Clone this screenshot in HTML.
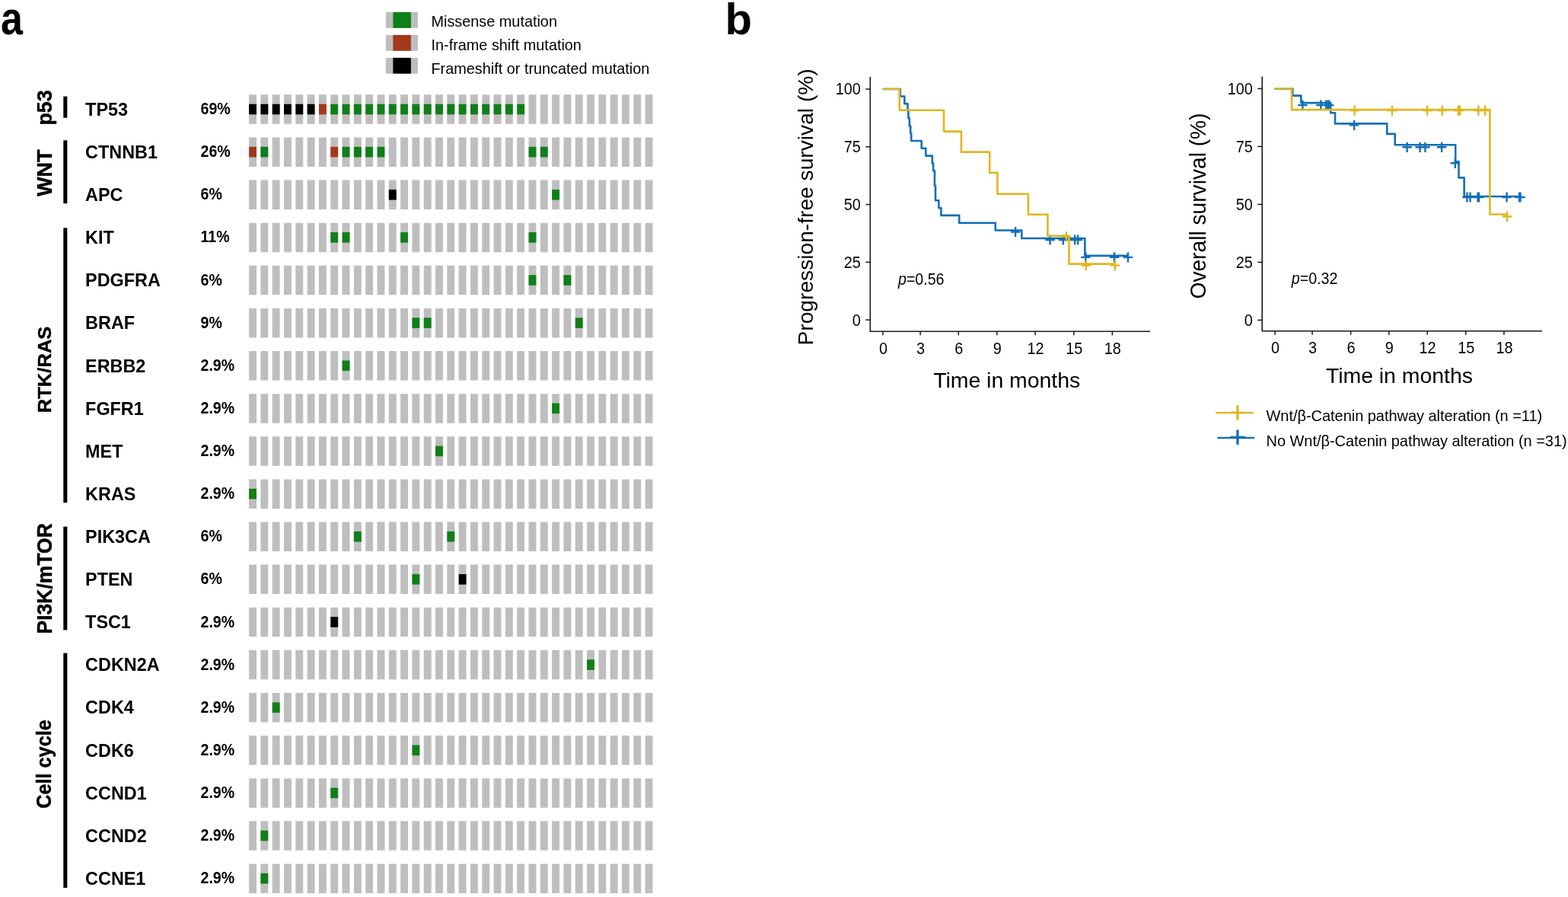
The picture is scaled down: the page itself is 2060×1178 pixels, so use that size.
<!DOCTYPE html>
<html><head><meta charset="utf-8"><title>Figure</title>
<style>
html,body{margin:0;padding:0;background:#fff;width:2060px;height:1178px;overflow:hidden}
svg{display:block}
</style></head><body>
<svg width="2060" height="1178" viewBox="0 0 2060 1178" font-family='"Liberation Sans", Arial, Helvetica, sans-serif' fill="#000">
<rect width="2060" height="1178" fill="#fff"/>
<text transform="translate(0.9 44.8) scale(0.897 1.043)" font-size="58" font-weight="700">a</text>
<text x="952.5" y="44.6" font-size="58" font-weight="700">b</text>
<rect x="506.8" y="16.00" width="42.2" height="20.8" fill="#bebebe"/>
<rect x="516.4" y="16.00" width="23.5" height="20.8" fill="#0f7f17"/>
<text x="566.5" y="35.4" font-size="19.85">Missense mutation</text>
<rect x="506.8" y="45.95" width="42.2" height="20.8" fill="#bebebe"/>
<rect x="516.4" y="45.95" width="23.5" height="20.8" fill="#a3391a"/>
<text x="566.5" y="65.9" font-size="19.85">In-frame shift mutation</text>
<rect x="506.8" y="75.90" width="42.2" height="20.8" fill="#bebebe"/>
<rect x="516.4" y="75.90" width="23.5" height="20.8" fill="#000000"/>
<text x="566.5" y="96.6" font-size="19.85">Frameshift or truncated mutation</text>
<path d="M327.10 124.30h9.9v38.5h-9.9zM342.41 124.30h9.9v38.5h-9.9zM357.72 124.30h9.9v38.5h-9.9zM373.03 124.30h9.9v38.5h-9.9zM388.34 124.30h9.9v38.5h-9.9zM403.65 124.30h9.9v38.5h-9.9zM418.96 124.30h9.9v38.5h-9.9zM434.27 124.30h9.9v38.5h-9.9zM449.58 124.30h9.9v38.5h-9.9zM464.89 124.30h9.9v38.5h-9.9zM480.20 124.30h9.9v38.5h-9.9zM495.51 124.30h9.9v38.5h-9.9zM510.82 124.30h9.9v38.5h-9.9zM526.13 124.30h9.9v38.5h-9.9zM541.44 124.30h9.9v38.5h-9.9zM556.75 124.30h9.9v38.5h-9.9zM572.06 124.30h9.9v38.5h-9.9zM587.37 124.30h9.9v38.5h-9.9zM602.68 124.30h9.9v38.5h-9.9zM617.99 124.30h9.9v38.5h-9.9zM633.30 124.30h9.9v38.5h-9.9zM648.61 124.30h9.9v38.5h-9.9zM663.92 124.30h9.9v38.5h-9.9zM679.23 124.30h9.9v38.5h-9.9zM694.54 124.30h9.9v38.5h-9.9zM709.85 124.30h9.9v38.5h-9.9zM725.16 124.30h9.9v38.5h-9.9zM740.47 124.30h9.9v38.5h-9.9zM755.78 124.30h9.9v38.5h-9.9zM771.09 124.30h9.9v38.5h-9.9zM786.40 124.30h9.9v38.5h-9.9zM801.71 124.30h9.9v38.5h-9.9zM817.02 124.30h9.9v38.5h-9.9zM832.33 124.30h9.9v38.5h-9.9zM847.64 124.30h9.9v38.5h-9.9z" fill="#bebebe"/>
<rect x="327.10" y="136.70" width="9.9" height="13.6" fill="#000000"/>
<rect x="342.41" y="136.70" width="9.9" height="13.6" fill="#000000"/>
<rect x="357.72" y="136.70" width="9.9" height="13.6" fill="#000000"/>
<rect x="373.03" y="136.70" width="9.9" height="13.6" fill="#000000"/>
<rect x="388.34" y="136.70" width="9.9" height="13.6" fill="#000000"/>
<rect x="403.65" y="136.70" width="9.9" height="13.6" fill="#000000"/>
<rect x="418.96" y="136.70" width="9.9" height="13.6" fill="#a3391a"/>
<rect x="434.27" y="136.70" width="9.9" height="13.6" fill="#0f7f17"/>
<rect x="449.58" y="136.70" width="9.9" height="13.6" fill="#0f7f17"/>
<rect x="464.89" y="136.70" width="9.9" height="13.6" fill="#0f7f17"/>
<rect x="480.20" y="136.70" width="9.9" height="13.6" fill="#0f7f17"/>
<rect x="495.51" y="136.70" width="9.9" height="13.6" fill="#0f7f17"/>
<rect x="510.82" y="136.70" width="9.9" height="13.6" fill="#0f7f17"/>
<rect x="526.13" y="136.70" width="9.9" height="13.6" fill="#0f7f17"/>
<rect x="541.44" y="136.70" width="9.9" height="13.6" fill="#0f7f17"/>
<rect x="556.75" y="136.70" width="9.9" height="13.6" fill="#0f7f17"/>
<rect x="572.06" y="136.70" width="9.9" height="13.6" fill="#0f7f17"/>
<rect x="587.37" y="136.70" width="9.9" height="13.6" fill="#0f7f17"/>
<rect x="602.68" y="136.70" width="9.9" height="13.6" fill="#0f7f17"/>
<rect x="617.99" y="136.70" width="9.9" height="13.6" fill="#0f7f17"/>
<rect x="633.30" y="136.70" width="9.9" height="13.6" fill="#0f7f17"/>
<rect x="648.61" y="136.70" width="9.9" height="13.6" fill="#0f7f17"/>
<rect x="663.92" y="136.70" width="9.9" height="13.6" fill="#0f7f17"/>
<rect x="679.23" y="136.70" width="9.9" height="13.6" fill="#0f7f17"/>
<text transform="translate(112.1 151.80) scale(1 1.015)" font-size="23.4" font-weight="700">TP53</text>
<text transform="translate(263.5 150.10) scale(1 1.086)" font-size="19.6" font-weight="700">69%</text>
<path d="M327.10 180.42h9.9v38.5h-9.9zM342.41 180.42h9.9v38.5h-9.9zM357.72 180.42h9.9v38.5h-9.9zM373.03 180.42h9.9v38.5h-9.9zM388.34 180.42h9.9v38.5h-9.9zM403.65 180.42h9.9v38.5h-9.9zM418.96 180.42h9.9v38.5h-9.9zM434.27 180.42h9.9v38.5h-9.9zM449.58 180.42h9.9v38.5h-9.9zM464.89 180.42h9.9v38.5h-9.9zM480.20 180.42h9.9v38.5h-9.9zM495.51 180.42h9.9v38.5h-9.9zM510.82 180.42h9.9v38.5h-9.9zM526.13 180.42h9.9v38.5h-9.9zM541.44 180.42h9.9v38.5h-9.9zM556.75 180.42h9.9v38.5h-9.9zM572.06 180.42h9.9v38.5h-9.9zM587.37 180.42h9.9v38.5h-9.9zM602.68 180.42h9.9v38.5h-9.9zM617.99 180.42h9.9v38.5h-9.9zM633.30 180.42h9.9v38.5h-9.9zM648.61 180.42h9.9v38.5h-9.9zM663.92 180.42h9.9v38.5h-9.9zM679.23 180.42h9.9v38.5h-9.9zM694.54 180.42h9.9v38.5h-9.9zM709.85 180.42h9.9v38.5h-9.9zM725.16 180.42h9.9v38.5h-9.9zM740.47 180.42h9.9v38.5h-9.9zM755.78 180.42h9.9v38.5h-9.9zM771.09 180.42h9.9v38.5h-9.9zM786.40 180.42h9.9v38.5h-9.9zM801.71 180.42h9.9v38.5h-9.9zM817.02 180.42h9.9v38.5h-9.9zM832.33 180.42h9.9v38.5h-9.9zM847.64 180.42h9.9v38.5h-9.9z" fill="#bebebe"/>
<rect x="327.10" y="192.82" width="9.9" height="13.6" fill="#a3391a"/>
<rect x="342.41" y="192.82" width="9.9" height="13.6" fill="#0f7f17"/>
<rect x="434.27" y="192.82" width="9.9" height="13.6" fill="#a3391a"/>
<rect x="449.58" y="192.82" width="9.9" height="13.6" fill="#0f7f17"/>
<rect x="464.89" y="192.82" width="9.9" height="13.6" fill="#0f7f17"/>
<rect x="480.20" y="192.82" width="9.9" height="13.6" fill="#0f7f17"/>
<rect x="495.51" y="192.82" width="9.9" height="13.6" fill="#0f7f17"/>
<rect x="694.54" y="192.82" width="9.9" height="13.6" fill="#0f7f17"/>
<rect x="709.85" y="192.82" width="9.9" height="13.6" fill="#0f7f17"/>
<text transform="translate(112.1 207.92) scale(1 1.015)" font-size="23.4" font-weight="700">CTNNB1</text>
<text transform="translate(263.5 206.22) scale(1 1.086)" font-size="19.6" font-weight="700">26%</text>
<path d="M327.10 236.54h9.9v38.5h-9.9zM342.41 236.54h9.9v38.5h-9.9zM357.72 236.54h9.9v38.5h-9.9zM373.03 236.54h9.9v38.5h-9.9zM388.34 236.54h9.9v38.5h-9.9zM403.65 236.54h9.9v38.5h-9.9zM418.96 236.54h9.9v38.5h-9.9zM434.27 236.54h9.9v38.5h-9.9zM449.58 236.54h9.9v38.5h-9.9zM464.89 236.54h9.9v38.5h-9.9zM480.20 236.54h9.9v38.5h-9.9zM495.51 236.54h9.9v38.5h-9.9zM510.82 236.54h9.9v38.5h-9.9zM526.13 236.54h9.9v38.5h-9.9zM541.44 236.54h9.9v38.5h-9.9zM556.75 236.54h9.9v38.5h-9.9zM572.06 236.54h9.9v38.5h-9.9zM587.37 236.54h9.9v38.5h-9.9zM602.68 236.54h9.9v38.5h-9.9zM617.99 236.54h9.9v38.5h-9.9zM633.30 236.54h9.9v38.5h-9.9zM648.61 236.54h9.9v38.5h-9.9zM663.92 236.54h9.9v38.5h-9.9zM679.23 236.54h9.9v38.5h-9.9zM694.54 236.54h9.9v38.5h-9.9zM709.85 236.54h9.9v38.5h-9.9zM725.16 236.54h9.9v38.5h-9.9zM740.47 236.54h9.9v38.5h-9.9zM755.78 236.54h9.9v38.5h-9.9zM771.09 236.54h9.9v38.5h-9.9zM786.40 236.54h9.9v38.5h-9.9zM801.71 236.54h9.9v38.5h-9.9zM817.02 236.54h9.9v38.5h-9.9zM832.33 236.54h9.9v38.5h-9.9zM847.64 236.54h9.9v38.5h-9.9z" fill="#bebebe"/>
<rect x="510.82" y="248.94" width="9.9" height="13.6" fill="#000000"/>
<rect x="725.16" y="248.94" width="9.9" height="13.6" fill="#0f7f17"/>
<text transform="translate(112.1 264.04) scale(1 1.015)" font-size="23.4" font-weight="700">APC</text>
<text transform="translate(263.5 262.34) scale(1 1.086)" font-size="19.6" font-weight="700">6%</text>
<path d="M327.10 292.66h9.9v38.5h-9.9zM342.41 292.66h9.9v38.5h-9.9zM357.72 292.66h9.9v38.5h-9.9zM373.03 292.66h9.9v38.5h-9.9zM388.34 292.66h9.9v38.5h-9.9zM403.65 292.66h9.9v38.5h-9.9zM418.96 292.66h9.9v38.5h-9.9zM434.27 292.66h9.9v38.5h-9.9zM449.58 292.66h9.9v38.5h-9.9zM464.89 292.66h9.9v38.5h-9.9zM480.20 292.66h9.9v38.5h-9.9zM495.51 292.66h9.9v38.5h-9.9zM510.82 292.66h9.9v38.5h-9.9zM526.13 292.66h9.9v38.5h-9.9zM541.44 292.66h9.9v38.5h-9.9zM556.75 292.66h9.9v38.5h-9.9zM572.06 292.66h9.9v38.5h-9.9zM587.37 292.66h9.9v38.5h-9.9zM602.68 292.66h9.9v38.5h-9.9zM617.99 292.66h9.9v38.5h-9.9zM633.30 292.66h9.9v38.5h-9.9zM648.61 292.66h9.9v38.5h-9.9zM663.92 292.66h9.9v38.5h-9.9zM679.23 292.66h9.9v38.5h-9.9zM694.54 292.66h9.9v38.5h-9.9zM709.85 292.66h9.9v38.5h-9.9zM725.16 292.66h9.9v38.5h-9.9zM740.47 292.66h9.9v38.5h-9.9zM755.78 292.66h9.9v38.5h-9.9zM771.09 292.66h9.9v38.5h-9.9zM786.40 292.66h9.9v38.5h-9.9zM801.71 292.66h9.9v38.5h-9.9zM817.02 292.66h9.9v38.5h-9.9zM832.33 292.66h9.9v38.5h-9.9zM847.64 292.66h9.9v38.5h-9.9z" fill="#bebebe"/>
<rect x="434.27" y="305.06" width="9.9" height="13.6" fill="#0f7f17"/>
<rect x="449.58" y="305.06" width="9.9" height="13.6" fill="#0f7f17"/>
<rect x="526.13" y="305.06" width="9.9" height="13.6" fill="#0f7f17"/>
<rect x="694.54" y="305.06" width="9.9" height="13.6" fill="#0f7f17"/>
<text transform="translate(112.1 320.16) scale(1 1.015)" font-size="23.4" font-weight="700">KIT</text>
<text transform="translate(263.5 318.46) scale(1 1.086)" font-size="19.6" font-weight="700">11%</text>
<path d="M327.10 348.78h9.9v38.5h-9.9zM342.41 348.78h9.9v38.5h-9.9zM357.72 348.78h9.9v38.5h-9.9zM373.03 348.78h9.9v38.5h-9.9zM388.34 348.78h9.9v38.5h-9.9zM403.65 348.78h9.9v38.5h-9.9zM418.96 348.78h9.9v38.5h-9.9zM434.27 348.78h9.9v38.5h-9.9zM449.58 348.78h9.9v38.5h-9.9zM464.89 348.78h9.9v38.5h-9.9zM480.20 348.78h9.9v38.5h-9.9zM495.51 348.78h9.9v38.5h-9.9zM510.82 348.78h9.9v38.5h-9.9zM526.13 348.78h9.9v38.5h-9.9zM541.44 348.78h9.9v38.5h-9.9zM556.75 348.78h9.9v38.5h-9.9zM572.06 348.78h9.9v38.5h-9.9zM587.37 348.78h9.9v38.5h-9.9zM602.68 348.78h9.9v38.5h-9.9zM617.99 348.78h9.9v38.5h-9.9zM633.30 348.78h9.9v38.5h-9.9zM648.61 348.78h9.9v38.5h-9.9zM663.92 348.78h9.9v38.5h-9.9zM679.23 348.78h9.9v38.5h-9.9zM694.54 348.78h9.9v38.5h-9.9zM709.85 348.78h9.9v38.5h-9.9zM725.16 348.78h9.9v38.5h-9.9zM740.47 348.78h9.9v38.5h-9.9zM755.78 348.78h9.9v38.5h-9.9zM771.09 348.78h9.9v38.5h-9.9zM786.40 348.78h9.9v38.5h-9.9zM801.71 348.78h9.9v38.5h-9.9zM817.02 348.78h9.9v38.5h-9.9zM832.33 348.78h9.9v38.5h-9.9zM847.64 348.78h9.9v38.5h-9.9z" fill="#bebebe"/>
<rect x="694.54" y="361.18" width="9.9" height="13.6" fill="#0f7f17"/>
<rect x="740.47" y="361.18" width="9.9" height="13.6" fill="#0f7f17"/>
<text transform="translate(112.1 376.28) scale(1 1.015)" font-size="23.4" font-weight="700">PDGFRA</text>
<text transform="translate(263.5 374.58) scale(1 1.086)" font-size="19.6" font-weight="700">6%</text>
<path d="M327.10 404.90h9.9v38.5h-9.9zM342.41 404.90h9.9v38.5h-9.9zM357.72 404.90h9.9v38.5h-9.9zM373.03 404.90h9.9v38.5h-9.9zM388.34 404.90h9.9v38.5h-9.9zM403.65 404.90h9.9v38.5h-9.9zM418.96 404.90h9.9v38.5h-9.9zM434.27 404.90h9.9v38.5h-9.9zM449.58 404.90h9.9v38.5h-9.9zM464.89 404.90h9.9v38.5h-9.9zM480.20 404.90h9.9v38.5h-9.9zM495.51 404.90h9.9v38.5h-9.9zM510.82 404.90h9.9v38.5h-9.9zM526.13 404.90h9.9v38.5h-9.9zM541.44 404.90h9.9v38.5h-9.9zM556.75 404.90h9.9v38.5h-9.9zM572.06 404.90h9.9v38.5h-9.9zM587.37 404.90h9.9v38.5h-9.9zM602.68 404.90h9.9v38.5h-9.9zM617.99 404.90h9.9v38.5h-9.9zM633.30 404.90h9.9v38.5h-9.9zM648.61 404.90h9.9v38.5h-9.9zM663.92 404.90h9.9v38.5h-9.9zM679.23 404.90h9.9v38.5h-9.9zM694.54 404.90h9.9v38.5h-9.9zM709.85 404.90h9.9v38.5h-9.9zM725.16 404.90h9.9v38.5h-9.9zM740.47 404.90h9.9v38.5h-9.9zM755.78 404.90h9.9v38.5h-9.9zM771.09 404.90h9.9v38.5h-9.9zM786.40 404.90h9.9v38.5h-9.9zM801.71 404.90h9.9v38.5h-9.9zM817.02 404.90h9.9v38.5h-9.9zM832.33 404.90h9.9v38.5h-9.9zM847.64 404.90h9.9v38.5h-9.9z" fill="#bebebe"/>
<rect x="541.44" y="417.30" width="9.9" height="13.6" fill="#0f7f17"/>
<rect x="556.75" y="417.30" width="9.9" height="13.6" fill="#0f7f17"/>
<rect x="755.78" y="417.30" width="9.9" height="13.6" fill="#0f7f17"/>
<text transform="translate(112.1 432.40) scale(1 1.015)" font-size="23.4" font-weight="700">BRAF</text>
<text transform="translate(263.5 430.70) scale(1 1.086)" font-size="19.6" font-weight="700">9%</text>
<path d="M327.10 461.02h9.9v38.5h-9.9zM342.41 461.02h9.9v38.5h-9.9zM357.72 461.02h9.9v38.5h-9.9zM373.03 461.02h9.9v38.5h-9.9zM388.34 461.02h9.9v38.5h-9.9zM403.65 461.02h9.9v38.5h-9.9zM418.96 461.02h9.9v38.5h-9.9zM434.27 461.02h9.9v38.5h-9.9zM449.58 461.02h9.9v38.5h-9.9zM464.89 461.02h9.9v38.5h-9.9zM480.20 461.02h9.9v38.5h-9.9zM495.51 461.02h9.9v38.5h-9.9zM510.82 461.02h9.9v38.5h-9.9zM526.13 461.02h9.9v38.5h-9.9zM541.44 461.02h9.9v38.5h-9.9zM556.75 461.02h9.9v38.5h-9.9zM572.06 461.02h9.9v38.5h-9.9zM587.37 461.02h9.9v38.5h-9.9zM602.68 461.02h9.9v38.5h-9.9zM617.99 461.02h9.9v38.5h-9.9zM633.30 461.02h9.9v38.5h-9.9zM648.61 461.02h9.9v38.5h-9.9zM663.92 461.02h9.9v38.5h-9.9zM679.23 461.02h9.9v38.5h-9.9zM694.54 461.02h9.9v38.5h-9.9zM709.85 461.02h9.9v38.5h-9.9zM725.16 461.02h9.9v38.5h-9.9zM740.47 461.02h9.9v38.5h-9.9zM755.78 461.02h9.9v38.5h-9.9zM771.09 461.02h9.9v38.5h-9.9zM786.40 461.02h9.9v38.5h-9.9zM801.71 461.02h9.9v38.5h-9.9zM817.02 461.02h9.9v38.5h-9.9zM832.33 461.02h9.9v38.5h-9.9zM847.64 461.02h9.9v38.5h-9.9z" fill="#bebebe"/>
<rect x="449.58" y="473.42" width="9.9" height="13.6" fill="#0f7f17"/>
<text transform="translate(112.1 488.52) scale(1 1.015)" font-size="23.4" font-weight="700">ERBB2</text>
<text transform="translate(263.5 486.82) scale(1 1.086)" font-size="19.6" font-weight="700">2.9%</text>
<path d="M327.10 517.14h9.9v38.5h-9.9zM342.41 517.14h9.9v38.5h-9.9zM357.72 517.14h9.9v38.5h-9.9zM373.03 517.14h9.9v38.5h-9.9zM388.34 517.14h9.9v38.5h-9.9zM403.65 517.14h9.9v38.5h-9.9zM418.96 517.14h9.9v38.5h-9.9zM434.27 517.14h9.9v38.5h-9.9zM449.58 517.14h9.9v38.5h-9.9zM464.89 517.14h9.9v38.5h-9.9zM480.20 517.14h9.9v38.5h-9.9zM495.51 517.14h9.9v38.5h-9.9zM510.82 517.14h9.9v38.5h-9.9zM526.13 517.14h9.9v38.5h-9.9zM541.44 517.14h9.9v38.5h-9.9zM556.75 517.14h9.9v38.5h-9.9zM572.06 517.14h9.9v38.5h-9.9zM587.37 517.14h9.9v38.5h-9.9zM602.68 517.14h9.9v38.5h-9.9zM617.99 517.14h9.9v38.5h-9.9zM633.30 517.14h9.9v38.5h-9.9zM648.61 517.14h9.9v38.5h-9.9zM663.92 517.14h9.9v38.5h-9.9zM679.23 517.14h9.9v38.5h-9.9zM694.54 517.14h9.9v38.5h-9.9zM709.85 517.14h9.9v38.5h-9.9zM725.16 517.14h9.9v38.5h-9.9zM740.47 517.14h9.9v38.5h-9.9zM755.78 517.14h9.9v38.5h-9.9zM771.09 517.14h9.9v38.5h-9.9zM786.40 517.14h9.9v38.5h-9.9zM801.71 517.14h9.9v38.5h-9.9zM817.02 517.14h9.9v38.5h-9.9zM832.33 517.14h9.9v38.5h-9.9zM847.64 517.14h9.9v38.5h-9.9z" fill="#bebebe"/>
<rect x="725.16" y="529.54" width="9.9" height="13.6" fill="#0f7f17"/>
<text transform="translate(112.1 544.64) scale(1 1.015)" font-size="23.4" font-weight="700">FGFR1</text>
<text transform="translate(263.5 542.94) scale(1 1.086)" font-size="19.6" font-weight="700">2.9%</text>
<path d="M327.10 573.26h9.9v38.5h-9.9zM342.41 573.26h9.9v38.5h-9.9zM357.72 573.26h9.9v38.5h-9.9zM373.03 573.26h9.9v38.5h-9.9zM388.34 573.26h9.9v38.5h-9.9zM403.65 573.26h9.9v38.5h-9.9zM418.96 573.26h9.9v38.5h-9.9zM434.27 573.26h9.9v38.5h-9.9zM449.58 573.26h9.9v38.5h-9.9zM464.89 573.26h9.9v38.5h-9.9zM480.20 573.26h9.9v38.5h-9.9zM495.51 573.26h9.9v38.5h-9.9zM510.82 573.26h9.9v38.5h-9.9zM526.13 573.26h9.9v38.5h-9.9zM541.44 573.26h9.9v38.5h-9.9zM556.75 573.26h9.9v38.5h-9.9zM572.06 573.26h9.9v38.5h-9.9zM587.37 573.26h9.9v38.5h-9.9zM602.68 573.26h9.9v38.5h-9.9zM617.99 573.26h9.9v38.5h-9.9zM633.30 573.26h9.9v38.5h-9.9zM648.61 573.26h9.9v38.5h-9.9zM663.92 573.26h9.9v38.5h-9.9zM679.23 573.26h9.9v38.5h-9.9zM694.54 573.26h9.9v38.5h-9.9zM709.85 573.26h9.9v38.5h-9.9zM725.16 573.26h9.9v38.5h-9.9zM740.47 573.26h9.9v38.5h-9.9zM755.78 573.26h9.9v38.5h-9.9zM771.09 573.26h9.9v38.5h-9.9zM786.40 573.26h9.9v38.5h-9.9zM801.71 573.26h9.9v38.5h-9.9zM817.02 573.26h9.9v38.5h-9.9zM832.33 573.26h9.9v38.5h-9.9zM847.64 573.26h9.9v38.5h-9.9z" fill="#bebebe"/>
<rect x="572.06" y="585.66" width="9.9" height="13.6" fill="#0f7f17"/>
<text transform="translate(112.1 600.76) scale(1 1.015)" font-size="23.4" font-weight="700">MET</text>
<text transform="translate(263.5 599.06) scale(1 1.086)" font-size="19.6" font-weight="700">2.9%</text>
<path d="M327.10 629.38h9.9v38.5h-9.9zM342.41 629.38h9.9v38.5h-9.9zM357.72 629.38h9.9v38.5h-9.9zM373.03 629.38h9.9v38.5h-9.9zM388.34 629.38h9.9v38.5h-9.9zM403.65 629.38h9.9v38.5h-9.9zM418.96 629.38h9.9v38.5h-9.9zM434.27 629.38h9.9v38.5h-9.9zM449.58 629.38h9.9v38.5h-9.9zM464.89 629.38h9.9v38.5h-9.9zM480.20 629.38h9.9v38.5h-9.9zM495.51 629.38h9.9v38.5h-9.9zM510.82 629.38h9.9v38.5h-9.9zM526.13 629.38h9.9v38.5h-9.9zM541.44 629.38h9.9v38.5h-9.9zM556.75 629.38h9.9v38.5h-9.9zM572.06 629.38h9.9v38.5h-9.9zM587.37 629.38h9.9v38.5h-9.9zM602.68 629.38h9.9v38.5h-9.9zM617.99 629.38h9.9v38.5h-9.9zM633.30 629.38h9.9v38.5h-9.9zM648.61 629.38h9.9v38.5h-9.9zM663.92 629.38h9.9v38.5h-9.9zM679.23 629.38h9.9v38.5h-9.9zM694.54 629.38h9.9v38.5h-9.9zM709.85 629.38h9.9v38.5h-9.9zM725.16 629.38h9.9v38.5h-9.9zM740.47 629.38h9.9v38.5h-9.9zM755.78 629.38h9.9v38.5h-9.9zM771.09 629.38h9.9v38.5h-9.9zM786.40 629.38h9.9v38.5h-9.9zM801.71 629.38h9.9v38.5h-9.9zM817.02 629.38h9.9v38.5h-9.9zM832.33 629.38h9.9v38.5h-9.9zM847.64 629.38h9.9v38.5h-9.9z" fill="#bebebe"/>
<rect x="327.10" y="641.78" width="9.9" height="13.6" fill="#0f7f17"/>
<text transform="translate(112.1 656.88) scale(1 1.015)" font-size="23.4" font-weight="700">KRAS</text>
<text transform="translate(263.5 655.18) scale(1 1.086)" font-size="19.6" font-weight="700">2.9%</text>
<path d="M327.10 685.50h9.9v38.5h-9.9zM342.41 685.50h9.9v38.5h-9.9zM357.72 685.50h9.9v38.5h-9.9zM373.03 685.50h9.9v38.5h-9.9zM388.34 685.50h9.9v38.5h-9.9zM403.65 685.50h9.9v38.5h-9.9zM418.96 685.50h9.9v38.5h-9.9zM434.27 685.50h9.9v38.5h-9.9zM449.58 685.50h9.9v38.5h-9.9zM464.89 685.50h9.9v38.5h-9.9zM480.20 685.50h9.9v38.5h-9.9zM495.51 685.50h9.9v38.5h-9.9zM510.82 685.50h9.9v38.5h-9.9zM526.13 685.50h9.9v38.5h-9.9zM541.44 685.50h9.9v38.5h-9.9zM556.75 685.50h9.9v38.5h-9.9zM572.06 685.50h9.9v38.5h-9.9zM587.37 685.50h9.9v38.5h-9.9zM602.68 685.50h9.9v38.5h-9.9zM617.99 685.50h9.9v38.5h-9.9zM633.30 685.50h9.9v38.5h-9.9zM648.61 685.50h9.9v38.5h-9.9zM663.92 685.50h9.9v38.5h-9.9zM679.23 685.50h9.9v38.5h-9.9zM694.54 685.50h9.9v38.5h-9.9zM709.85 685.50h9.9v38.5h-9.9zM725.16 685.50h9.9v38.5h-9.9zM740.47 685.50h9.9v38.5h-9.9zM755.78 685.50h9.9v38.5h-9.9zM771.09 685.50h9.9v38.5h-9.9zM786.40 685.50h9.9v38.5h-9.9zM801.71 685.50h9.9v38.5h-9.9zM817.02 685.50h9.9v38.5h-9.9zM832.33 685.50h9.9v38.5h-9.9zM847.64 685.50h9.9v38.5h-9.9z" fill="#bebebe"/>
<rect x="464.89" y="697.90" width="9.9" height="13.6" fill="#0f7f17"/>
<rect x="587.37" y="697.90" width="9.9" height="13.6" fill="#0f7f17"/>
<text transform="translate(112.1 713.00) scale(1 1.015)" font-size="23.4" font-weight="700">PIK3CA</text>
<text transform="translate(263.5 711.30) scale(1 1.086)" font-size="19.6" font-weight="700">6%</text>
<path d="M327.10 741.62h9.9v38.5h-9.9zM342.41 741.62h9.9v38.5h-9.9zM357.72 741.62h9.9v38.5h-9.9zM373.03 741.62h9.9v38.5h-9.9zM388.34 741.62h9.9v38.5h-9.9zM403.65 741.62h9.9v38.5h-9.9zM418.96 741.62h9.9v38.5h-9.9zM434.27 741.62h9.9v38.5h-9.9zM449.58 741.62h9.9v38.5h-9.9zM464.89 741.62h9.9v38.5h-9.9zM480.20 741.62h9.9v38.5h-9.9zM495.51 741.62h9.9v38.5h-9.9zM510.82 741.62h9.9v38.5h-9.9zM526.13 741.62h9.9v38.5h-9.9zM541.44 741.62h9.9v38.5h-9.9zM556.75 741.62h9.9v38.5h-9.9zM572.06 741.62h9.9v38.5h-9.9zM587.37 741.62h9.9v38.5h-9.9zM602.68 741.62h9.9v38.5h-9.9zM617.99 741.62h9.9v38.5h-9.9zM633.30 741.62h9.9v38.5h-9.9zM648.61 741.62h9.9v38.5h-9.9zM663.92 741.62h9.9v38.5h-9.9zM679.23 741.62h9.9v38.5h-9.9zM694.54 741.62h9.9v38.5h-9.9zM709.85 741.62h9.9v38.5h-9.9zM725.16 741.62h9.9v38.5h-9.9zM740.47 741.62h9.9v38.5h-9.9zM755.78 741.62h9.9v38.5h-9.9zM771.09 741.62h9.9v38.5h-9.9zM786.40 741.62h9.9v38.5h-9.9zM801.71 741.62h9.9v38.5h-9.9zM817.02 741.62h9.9v38.5h-9.9zM832.33 741.62h9.9v38.5h-9.9zM847.64 741.62h9.9v38.5h-9.9z" fill="#bebebe"/>
<rect x="541.44" y="754.02" width="9.9" height="13.6" fill="#0f7f17"/>
<rect x="602.68" y="754.02" width="9.9" height="13.6" fill="#000000"/>
<text transform="translate(112.1 769.12) scale(1 1.015)" font-size="23.4" font-weight="700">PTEN</text>
<text transform="translate(263.5 767.42) scale(1 1.086)" font-size="19.6" font-weight="700">6%</text>
<path d="M327.10 797.74h9.9v38.5h-9.9zM342.41 797.74h9.9v38.5h-9.9zM357.72 797.74h9.9v38.5h-9.9zM373.03 797.74h9.9v38.5h-9.9zM388.34 797.74h9.9v38.5h-9.9zM403.65 797.74h9.9v38.5h-9.9zM418.96 797.74h9.9v38.5h-9.9zM434.27 797.74h9.9v38.5h-9.9zM449.58 797.74h9.9v38.5h-9.9zM464.89 797.74h9.9v38.5h-9.9zM480.20 797.74h9.9v38.5h-9.9zM495.51 797.74h9.9v38.5h-9.9zM510.82 797.74h9.9v38.5h-9.9zM526.13 797.74h9.9v38.5h-9.9zM541.44 797.74h9.9v38.5h-9.9zM556.75 797.74h9.9v38.5h-9.9zM572.06 797.74h9.9v38.5h-9.9zM587.37 797.74h9.9v38.5h-9.9zM602.68 797.74h9.9v38.5h-9.9zM617.99 797.74h9.9v38.5h-9.9zM633.30 797.74h9.9v38.5h-9.9zM648.61 797.74h9.9v38.5h-9.9zM663.92 797.74h9.9v38.5h-9.9zM679.23 797.74h9.9v38.5h-9.9zM694.54 797.74h9.9v38.5h-9.9zM709.85 797.74h9.9v38.5h-9.9zM725.16 797.74h9.9v38.5h-9.9zM740.47 797.74h9.9v38.5h-9.9zM755.78 797.74h9.9v38.5h-9.9zM771.09 797.74h9.9v38.5h-9.9zM786.40 797.74h9.9v38.5h-9.9zM801.71 797.74h9.9v38.5h-9.9zM817.02 797.74h9.9v38.5h-9.9zM832.33 797.74h9.9v38.5h-9.9zM847.64 797.74h9.9v38.5h-9.9z" fill="#bebebe"/>
<rect x="434.27" y="810.14" width="9.9" height="13.6" fill="#000000"/>
<text transform="translate(112.1 825.24) scale(1 1.015)" font-size="23.4" font-weight="700">TSC1</text>
<text transform="translate(263.5 823.54) scale(1 1.086)" font-size="19.6" font-weight="700">2.9%</text>
<path d="M327.10 853.86h9.9v38.5h-9.9zM342.41 853.86h9.9v38.5h-9.9zM357.72 853.86h9.9v38.5h-9.9zM373.03 853.86h9.9v38.5h-9.9zM388.34 853.86h9.9v38.5h-9.9zM403.65 853.86h9.9v38.5h-9.9zM418.96 853.86h9.9v38.5h-9.9zM434.27 853.86h9.9v38.5h-9.9zM449.58 853.86h9.9v38.5h-9.9zM464.89 853.86h9.9v38.5h-9.9zM480.20 853.86h9.9v38.5h-9.9zM495.51 853.86h9.9v38.5h-9.9zM510.82 853.86h9.9v38.5h-9.9zM526.13 853.86h9.9v38.5h-9.9zM541.44 853.86h9.9v38.5h-9.9zM556.75 853.86h9.9v38.5h-9.9zM572.06 853.86h9.9v38.5h-9.9zM587.37 853.86h9.9v38.5h-9.9zM602.68 853.86h9.9v38.5h-9.9zM617.99 853.86h9.9v38.5h-9.9zM633.30 853.86h9.9v38.5h-9.9zM648.61 853.86h9.9v38.5h-9.9zM663.92 853.86h9.9v38.5h-9.9zM679.23 853.86h9.9v38.5h-9.9zM694.54 853.86h9.9v38.5h-9.9zM709.85 853.86h9.9v38.5h-9.9zM725.16 853.86h9.9v38.5h-9.9zM740.47 853.86h9.9v38.5h-9.9zM755.78 853.86h9.9v38.5h-9.9zM771.09 853.86h9.9v38.5h-9.9zM786.40 853.86h9.9v38.5h-9.9zM801.71 853.86h9.9v38.5h-9.9zM817.02 853.86h9.9v38.5h-9.9zM832.33 853.86h9.9v38.5h-9.9zM847.64 853.86h9.9v38.5h-9.9z" fill="#bebebe"/>
<rect x="771.09" y="866.26" width="9.9" height="13.6" fill="#0f7f17"/>
<text transform="translate(112.1 881.36) scale(1 1.015)" font-size="23.4" font-weight="700">CDKN2A</text>
<text transform="translate(263.5 879.66) scale(1 1.086)" font-size="19.6" font-weight="700">2.9%</text>
<path d="M327.10 909.98h9.9v38.5h-9.9zM342.41 909.98h9.9v38.5h-9.9zM357.72 909.98h9.9v38.5h-9.9zM373.03 909.98h9.9v38.5h-9.9zM388.34 909.98h9.9v38.5h-9.9zM403.65 909.98h9.9v38.5h-9.9zM418.96 909.98h9.9v38.5h-9.9zM434.27 909.98h9.9v38.5h-9.9zM449.58 909.98h9.9v38.5h-9.9zM464.89 909.98h9.9v38.5h-9.9zM480.20 909.98h9.9v38.5h-9.9zM495.51 909.98h9.9v38.5h-9.9zM510.82 909.98h9.9v38.5h-9.9zM526.13 909.98h9.9v38.5h-9.9zM541.44 909.98h9.9v38.5h-9.9zM556.75 909.98h9.9v38.5h-9.9zM572.06 909.98h9.9v38.5h-9.9zM587.37 909.98h9.9v38.5h-9.9zM602.68 909.98h9.9v38.5h-9.9zM617.99 909.98h9.9v38.5h-9.9zM633.30 909.98h9.9v38.5h-9.9zM648.61 909.98h9.9v38.5h-9.9zM663.92 909.98h9.9v38.5h-9.9zM679.23 909.98h9.9v38.5h-9.9zM694.54 909.98h9.9v38.5h-9.9zM709.85 909.98h9.9v38.5h-9.9zM725.16 909.98h9.9v38.5h-9.9zM740.47 909.98h9.9v38.5h-9.9zM755.78 909.98h9.9v38.5h-9.9zM771.09 909.98h9.9v38.5h-9.9zM786.40 909.98h9.9v38.5h-9.9zM801.71 909.98h9.9v38.5h-9.9zM817.02 909.98h9.9v38.5h-9.9zM832.33 909.98h9.9v38.5h-9.9zM847.64 909.98h9.9v38.5h-9.9z" fill="#bebebe"/>
<rect x="357.72" y="922.38" width="9.9" height="13.6" fill="#0f7f17"/>
<text transform="translate(112.1 937.48) scale(1 1.015)" font-size="23.4" font-weight="700">CDK4</text>
<text transform="translate(263.5 935.78) scale(1 1.086)" font-size="19.6" font-weight="700">2.9%</text>
<path d="M327.10 966.10h9.9v38.5h-9.9zM342.41 966.10h9.9v38.5h-9.9zM357.72 966.10h9.9v38.5h-9.9zM373.03 966.10h9.9v38.5h-9.9zM388.34 966.10h9.9v38.5h-9.9zM403.65 966.10h9.9v38.5h-9.9zM418.96 966.10h9.9v38.5h-9.9zM434.27 966.10h9.9v38.5h-9.9zM449.58 966.10h9.9v38.5h-9.9zM464.89 966.10h9.9v38.5h-9.9zM480.20 966.10h9.9v38.5h-9.9zM495.51 966.10h9.9v38.5h-9.9zM510.82 966.10h9.9v38.5h-9.9zM526.13 966.10h9.9v38.5h-9.9zM541.44 966.10h9.9v38.5h-9.9zM556.75 966.10h9.9v38.5h-9.9zM572.06 966.10h9.9v38.5h-9.9zM587.37 966.10h9.9v38.5h-9.9zM602.68 966.10h9.9v38.5h-9.9zM617.99 966.10h9.9v38.5h-9.9zM633.30 966.10h9.9v38.5h-9.9zM648.61 966.10h9.9v38.5h-9.9zM663.92 966.10h9.9v38.5h-9.9zM679.23 966.10h9.9v38.5h-9.9zM694.54 966.10h9.9v38.5h-9.9zM709.85 966.10h9.9v38.5h-9.9zM725.16 966.10h9.9v38.5h-9.9zM740.47 966.10h9.9v38.5h-9.9zM755.78 966.10h9.9v38.5h-9.9zM771.09 966.10h9.9v38.5h-9.9zM786.40 966.10h9.9v38.5h-9.9zM801.71 966.10h9.9v38.5h-9.9zM817.02 966.10h9.9v38.5h-9.9zM832.33 966.10h9.9v38.5h-9.9zM847.64 966.10h9.9v38.5h-9.9z" fill="#bebebe"/>
<rect x="541.44" y="978.50" width="9.9" height="13.6" fill="#0f7f17"/>
<text transform="translate(112.1 993.60) scale(1 1.015)" font-size="23.4" font-weight="700">CDK6</text>
<text transform="translate(263.5 991.90) scale(1 1.086)" font-size="19.6" font-weight="700">2.9%</text>
<path d="M327.10 1022.22h9.9v38.5h-9.9zM342.41 1022.22h9.9v38.5h-9.9zM357.72 1022.22h9.9v38.5h-9.9zM373.03 1022.22h9.9v38.5h-9.9zM388.34 1022.22h9.9v38.5h-9.9zM403.65 1022.22h9.9v38.5h-9.9zM418.96 1022.22h9.9v38.5h-9.9zM434.27 1022.22h9.9v38.5h-9.9zM449.58 1022.22h9.9v38.5h-9.9zM464.89 1022.22h9.9v38.5h-9.9zM480.20 1022.22h9.9v38.5h-9.9zM495.51 1022.22h9.9v38.5h-9.9zM510.82 1022.22h9.9v38.5h-9.9zM526.13 1022.22h9.9v38.5h-9.9zM541.44 1022.22h9.9v38.5h-9.9zM556.75 1022.22h9.9v38.5h-9.9zM572.06 1022.22h9.9v38.5h-9.9zM587.37 1022.22h9.9v38.5h-9.9zM602.68 1022.22h9.9v38.5h-9.9zM617.99 1022.22h9.9v38.5h-9.9zM633.30 1022.22h9.9v38.5h-9.9zM648.61 1022.22h9.9v38.5h-9.9zM663.92 1022.22h9.9v38.5h-9.9zM679.23 1022.22h9.9v38.5h-9.9zM694.54 1022.22h9.9v38.5h-9.9zM709.85 1022.22h9.9v38.5h-9.9zM725.16 1022.22h9.9v38.5h-9.9zM740.47 1022.22h9.9v38.5h-9.9zM755.78 1022.22h9.9v38.5h-9.9zM771.09 1022.22h9.9v38.5h-9.9zM786.40 1022.22h9.9v38.5h-9.9zM801.71 1022.22h9.9v38.5h-9.9zM817.02 1022.22h9.9v38.5h-9.9zM832.33 1022.22h9.9v38.5h-9.9zM847.64 1022.22h9.9v38.5h-9.9z" fill="#bebebe"/>
<rect x="434.27" y="1034.62" width="9.9" height="13.6" fill="#0f7f17"/>
<text transform="translate(112.1 1049.72) scale(1 1.015)" font-size="23.4" font-weight="700">CCND1</text>
<text transform="translate(263.5 1048.02) scale(1 1.086)" font-size="19.6" font-weight="700">2.9%</text>
<path d="M327.10 1078.34h9.9v38.5h-9.9zM342.41 1078.34h9.9v38.5h-9.9zM357.72 1078.34h9.9v38.5h-9.9zM373.03 1078.34h9.9v38.5h-9.9zM388.34 1078.34h9.9v38.5h-9.9zM403.65 1078.34h9.9v38.5h-9.9zM418.96 1078.34h9.9v38.5h-9.9zM434.27 1078.34h9.9v38.5h-9.9zM449.58 1078.34h9.9v38.5h-9.9zM464.89 1078.34h9.9v38.5h-9.9zM480.20 1078.34h9.9v38.5h-9.9zM495.51 1078.34h9.9v38.5h-9.9zM510.82 1078.34h9.9v38.5h-9.9zM526.13 1078.34h9.9v38.5h-9.9zM541.44 1078.34h9.9v38.5h-9.9zM556.75 1078.34h9.9v38.5h-9.9zM572.06 1078.34h9.9v38.5h-9.9zM587.37 1078.34h9.9v38.5h-9.9zM602.68 1078.34h9.9v38.5h-9.9zM617.99 1078.34h9.9v38.5h-9.9zM633.30 1078.34h9.9v38.5h-9.9zM648.61 1078.34h9.9v38.5h-9.9zM663.92 1078.34h9.9v38.5h-9.9zM679.23 1078.34h9.9v38.5h-9.9zM694.54 1078.34h9.9v38.5h-9.9zM709.85 1078.34h9.9v38.5h-9.9zM725.16 1078.34h9.9v38.5h-9.9zM740.47 1078.34h9.9v38.5h-9.9zM755.78 1078.34h9.9v38.5h-9.9zM771.09 1078.34h9.9v38.5h-9.9zM786.40 1078.34h9.9v38.5h-9.9zM801.71 1078.34h9.9v38.5h-9.9zM817.02 1078.34h9.9v38.5h-9.9zM832.33 1078.34h9.9v38.5h-9.9zM847.64 1078.34h9.9v38.5h-9.9z" fill="#bebebe"/>
<rect x="342.41" y="1090.74" width="9.9" height="13.6" fill="#0f7f17"/>
<text transform="translate(112.1 1105.84) scale(1 1.015)" font-size="23.4" font-weight="700">CCND2</text>
<text transform="translate(263.5 1104.14) scale(1 1.086)" font-size="19.6" font-weight="700">2.9%</text>
<path d="M327.10 1134.46h9.9v38.5h-9.9zM342.41 1134.46h9.9v38.5h-9.9zM357.72 1134.46h9.9v38.5h-9.9zM373.03 1134.46h9.9v38.5h-9.9zM388.34 1134.46h9.9v38.5h-9.9zM403.65 1134.46h9.9v38.5h-9.9zM418.96 1134.46h9.9v38.5h-9.9zM434.27 1134.46h9.9v38.5h-9.9zM449.58 1134.46h9.9v38.5h-9.9zM464.89 1134.46h9.9v38.5h-9.9zM480.20 1134.46h9.9v38.5h-9.9zM495.51 1134.46h9.9v38.5h-9.9zM510.82 1134.46h9.9v38.5h-9.9zM526.13 1134.46h9.9v38.5h-9.9zM541.44 1134.46h9.9v38.5h-9.9zM556.75 1134.46h9.9v38.5h-9.9zM572.06 1134.46h9.9v38.5h-9.9zM587.37 1134.46h9.9v38.5h-9.9zM602.68 1134.46h9.9v38.5h-9.9zM617.99 1134.46h9.9v38.5h-9.9zM633.30 1134.46h9.9v38.5h-9.9zM648.61 1134.46h9.9v38.5h-9.9zM663.92 1134.46h9.9v38.5h-9.9zM679.23 1134.46h9.9v38.5h-9.9zM694.54 1134.46h9.9v38.5h-9.9zM709.85 1134.46h9.9v38.5h-9.9zM725.16 1134.46h9.9v38.5h-9.9zM740.47 1134.46h9.9v38.5h-9.9zM755.78 1134.46h9.9v38.5h-9.9zM771.09 1134.46h9.9v38.5h-9.9zM786.40 1134.46h9.9v38.5h-9.9zM801.71 1134.46h9.9v38.5h-9.9zM817.02 1134.46h9.9v38.5h-9.9zM832.33 1134.46h9.9v38.5h-9.9zM847.64 1134.46h9.9v38.5h-9.9z" fill="#bebebe"/>
<rect x="342.41" y="1146.86" width="9.9" height="13.6" fill="#0f7f17"/>
<text transform="translate(112.1 1161.96) scale(1 1.015)" font-size="23.4" font-weight="700">CCNE1</text>
<text transform="translate(263.5 1160.26) scale(1 1.086)" font-size="19.6" font-weight="700">2.9%</text>
<rect x="83.3" y="126.6" width="5" height="28.1" fill="#000"/>
<text transform="translate(68.0 141.4) rotate(-90)" text-anchor="middle" font-size="26.8" font-weight="700" stroke="#000" stroke-width="0.45" stroke-linejoin="round">p53</text>
<rect x="83.3" y="184.3" width="5" height="82.9" fill="#000"/>
<text transform="translate(68.0 227.2) rotate(-90)" text-anchor="middle" font-size="26.8" font-weight="700" stroke="#000" stroke-width="0.45" stroke-linejoin="round" textLength="61.3" lengthAdjust="spacingAndGlyphs">WNT</text>
<rect x="83.3" y="299.3" width="5" height="360.9" fill="#000"/>
<text transform="translate(67.2 485.4) rotate(-90)" text-anchor="middle" font-size="24.7" font-weight="700" stroke="#000" stroke-width="0.45" stroke-linejoin="round" textLength="113.6" lengthAdjust="spacingAndGlyphs">RTK/RAS</text>
<rect x="83.3" y="691.6" width="5" height="135.8" fill="#000"/>
<text transform="translate(67.7 759.8) rotate(-90)" text-anchor="middle" font-size="27.2" font-weight="700" stroke="#000" stroke-width="0.45" stroke-linejoin="round" textLength="145.3" lengthAdjust="spacingAndGlyphs">PI3K/mTOR</text>
<rect x="83.3" y="857.6" width="5" height="308.3" fill="#000"/>
<text transform="translate(67.4 1003.5) rotate(-90)" text-anchor="middle" font-size="27.2" font-weight="700" stroke="#000" stroke-width="0.45" stroke-linejoin="round" textLength="116.5" lengthAdjust="spacingAndGlyphs">Cell cycle</text>
<path d="M1143.3 101.0V435.3H1511" fill="none" stroke="#1a1a1a" stroke-width="1.6"/>
<path d="M1137.3 420.10H1143.3" stroke="#1a1a1a" stroke-width="1.5"/>
<text transform="translate(1130.8 427.50) scale(1 1.13)" font-size="19.8" text-anchor="end">0</text>
<path d="M1137.3 344.33H1143.3" stroke="#1a1a1a" stroke-width="1.5"/>
<text transform="translate(1130.8 351.73) scale(1 1.13)" font-size="19.8" text-anchor="end">25</text>
<path d="M1137.3 268.55H1143.3" stroke="#1a1a1a" stroke-width="1.5"/>
<text transform="translate(1130.8 275.95) scale(1 1.13)" font-size="19.8" text-anchor="end">50</text>
<path d="M1137.3 192.78H1143.3" stroke="#1a1a1a" stroke-width="1.5"/>
<text transform="translate(1130.8 200.18) scale(1 1.13)" font-size="19.8" text-anchor="end">75</text>
<path d="M1137.3 117.00H1143.3" stroke="#1a1a1a" stroke-width="1.5"/>
<text transform="translate(1130.8 124.40) scale(1 1.13)" font-size="19.8" text-anchor="end">100</text>
<path d="M1159.90 435.3v5" stroke="#1a1a1a" stroke-width="1.5"/>
<text transform="translate(1160.40 465.00) scale(1 1.13)" font-size="19.8" text-anchor="middle">0</text>
<path d="M1209.10 435.3v5" stroke="#1a1a1a" stroke-width="1.5"/>
<text transform="translate(1209.60 465.00) scale(1 1.13)" font-size="19.8" text-anchor="middle">3</text>
<path d="M1259.30 435.3v5" stroke="#1a1a1a" stroke-width="1.5"/>
<text transform="translate(1259.80 465.00) scale(1 1.13)" font-size="19.8" text-anchor="middle">6</text>
<path d="M1309.80 435.3v5" stroke="#1a1a1a" stroke-width="1.5"/>
<text transform="translate(1310.30 465.00) scale(1 1.13)" font-size="19.8" text-anchor="middle">9</text>
<path d="M1360.10 435.3v5" stroke="#1a1a1a" stroke-width="1.5"/>
<text transform="translate(1360.60 465.00) scale(1 1.13)" font-size="19.8" text-anchor="middle">12</text>
<path d="M1410.80 435.3v5" stroke="#1a1a1a" stroke-width="1.5"/>
<text transform="translate(1411.30 465.00) scale(1 1.13)" font-size="19.8" text-anchor="middle">15</text>
<path d="M1461.30 435.3v5" stroke="#1a1a1a" stroke-width="1.5"/>
<text transform="translate(1461.80 465.00) scale(1 1.13)" font-size="19.8" text-anchor="middle">18</text>
<text x="1322.7" y="508.5" font-size="28.4" text-anchor="middle">Time in months</text>
<text transform="translate(1067.8 271.9) rotate(-90)" text-anchor="middle" font-size="27.9" textLength="363.2" lengthAdjust="spacingAndGlyphs">Progression-free survival (%)</text>
<text transform="translate(1180.0 373.6) scale(1 1.1)" font-size="19.6"><tspan font-style="italic">p</tspan>=0.56</text>
<path d="M1658.2 100.5V434.8H2026" fill="none" stroke="#1a1a1a" stroke-width="1.6"/>
<path d="M1652.2 420.40H1658.2" stroke="#1a1a1a" stroke-width="1.5"/>
<text transform="translate(1645.7 427.80) scale(1 1.13)" font-size="19.8" text-anchor="end">0</text>
<path d="M1652.2 344.40H1658.2" stroke="#1a1a1a" stroke-width="1.5"/>
<text transform="translate(1645.7 351.80) scale(1 1.13)" font-size="19.8" text-anchor="end">25</text>
<path d="M1652.2 268.40H1658.2" stroke="#1a1a1a" stroke-width="1.5"/>
<text transform="translate(1645.7 275.80) scale(1 1.13)" font-size="19.8" text-anchor="end">50</text>
<path d="M1652.2 192.40H1658.2" stroke="#1a1a1a" stroke-width="1.5"/>
<text transform="translate(1645.7 199.80) scale(1 1.13)" font-size="19.8" text-anchor="end">75</text>
<path d="M1652.2 116.40H1658.2" stroke="#1a1a1a" stroke-width="1.5"/>
<text transform="translate(1645.7 123.80) scale(1 1.13)" font-size="19.8" text-anchor="end">100</text>
<path d="M1675.10 434.8v5" stroke="#1a1a1a" stroke-width="1.5"/>
<text transform="translate(1675.60 463.80) scale(1 1.13)" font-size="19.8" text-anchor="middle">0</text>
<path d="M1724.00 434.8v5" stroke="#1a1a1a" stroke-width="1.5"/>
<text transform="translate(1724.50 463.80) scale(1 1.13)" font-size="19.8" text-anchor="middle">3</text>
<path d="M1774.60 434.8v5" stroke="#1a1a1a" stroke-width="1.5"/>
<text transform="translate(1775.10 463.80) scale(1 1.13)" font-size="19.8" text-anchor="middle">6</text>
<path d="M1824.80 434.8v5" stroke="#1a1a1a" stroke-width="1.5"/>
<text transform="translate(1825.30 463.80) scale(1 1.13)" font-size="19.8" text-anchor="middle">9</text>
<path d="M1875.10 434.8v5" stroke="#1a1a1a" stroke-width="1.5"/>
<text transform="translate(1875.60 463.80) scale(1 1.13)" font-size="19.8" text-anchor="middle">12</text>
<path d="M1925.70 434.8v5" stroke="#1a1a1a" stroke-width="1.5"/>
<text transform="translate(1926.20 463.80) scale(1 1.13)" font-size="19.8" text-anchor="middle">15</text>
<path d="M1975.90 434.8v5" stroke="#1a1a1a" stroke-width="1.5"/>
<text transform="translate(1976.40 463.80) scale(1 1.13)" font-size="19.8" text-anchor="middle">18</text>
<text x="1838.4" y="503.0" font-size="28.4" text-anchor="middle">Time in months</text>
<text transform="translate(1584.0 270.5) rotate(-90)" text-anchor="middle" font-size="28.9" textLength="244.0" lengthAdjust="spacingAndGlyphs">Overall survival (%)</text>
<text transform="translate(1696.8 372.7) scale(1 1.1)" font-size="19.6"><tspan font-style="italic">p</tspan>=0.32</text>
<path d="M1159.7 117.0H1182.7V126.5H1188.3V136.3H1192.5V145.5H1193.4V155.3H1194.8V165.5H1196.2V175.3H1197.2V185.0H1210.7V194.8H1216.3V204.6H1224.8V214.4H1226.1V224.2H1227.9V243.8H1229.0V263.3H1233.3V273.1H1236.4V282.9H1260.2V292.7H1307.7V302.5H1342.3V313.0H1425.3V335.9H1481.9" fill="none" stroke="#126fb6" stroke-width="2.6" stroke-linejoin="round"/>
<path d="M1327.90 304.50h12.40M1334.10 297.90v13.20" stroke="#126fb6" stroke-width="2.4" fill="none"/>
<path d="M1373.30 315.00h12.40M1379.50 308.40v13.20M1390.60 315.00h12.40M1396.80 308.40v13.20M1405.90 315.00h12.40M1412.10 308.40v13.20M1409.90 315.00h12.40M1416.10 308.40v13.20" stroke="#126fb6" stroke-width="2.4" fill="none"/>
<path d="M1420.10 337.90h12.40M1426.30 331.30v13.20M1457.80 337.90h12.40M1464.00 331.30v13.20M1475.70 337.90h12.40M1481.90 331.30v13.20" stroke="#126fb6" stroke-width="2.4" fill="none"/>
<path d="M1159.5 116.8H1181.7V144.7H1240.0V172.6H1262.9V199.6H1300.2V226.9H1310.4V254.7H1350.9V281.8H1376.4V309.8H1404.4V346.6H1465.0" fill="none" stroke="#e1b61e" stroke-width="2.6" stroke-linejoin="round"/>
<path d="M1394.70 310.80h12.40M1400.90 304.20v13.20" stroke="#e1b61e" stroke-width="2.4" fill="none"/>
<path d="M1420.60 348.60h12.40M1426.80 342.00v13.20M1458.80 348.60h12.40M1465.00 342.00v13.20" stroke="#e1b61e" stroke-width="2.4" fill="none"/>
<path d="M1674.6 116.5H1698.2V125.6H1709.3V135.1H1748.2V148.2H1754.0V162.4H1822.2V175.9H1832.7V190.3H1912.2V212.3H1916.5V233.4H1923.6V258.0H1996.8" fill="none" stroke="#126fb6" stroke-width="2.6" stroke-linejoin="round"/>
<path d="M1705.20 138.10h12.40M1711.40 131.50v13.20M1729.10 138.10h12.40M1735.30 131.50v13.20M1736.00 138.10h12.40M1742.20 131.50v13.20M1738.50 138.10h12.40M1744.70 131.50v13.20M1740.00 138.10h12.40M1746.20 131.50v13.20" stroke="#126fb6" stroke-width="2.4" fill="none"/>
<path d="M1772.90 164.40h12.40M1779.10 157.80v13.20" stroke="#126fb6" stroke-width="2.4" fill="none"/>
<path d="M1842.40 193.30h12.40M1848.60 186.70v13.20M1859.40 193.30h12.40M1865.60 186.70v13.20M1866.20 193.30h12.40M1872.40 186.70v13.20M1887.90 193.30h12.40M1894.10 186.70v13.20" stroke="#126fb6" stroke-width="2.4" fill="none"/>
<path d="M1905.60 214.30h12.40M1911.80 207.70v13.20" stroke="#126fb6" stroke-width="2.4" fill="none"/>
<path d="M1921.20 259.00h12.40M1927.40 252.40v13.20M1925.30 259.00h12.40M1931.50 252.40v13.20M1935.40 259.00h12.40M1941.60 252.40v13.20M1936.80 259.00h12.40M1943.00 252.40v13.20M1973.30 259.00h12.40M1979.50 252.40v13.20M1989.90 259.00h12.40M1996.10 252.40v13.20M1991.30 259.00h12.40M1997.50 252.40v13.20" stroke="#126fb6" stroke-width="2.4" fill="none"/>
<path d="M1674.6 116.3H1697.0V144.1H1957.4V281.5H1980.1" fill="none" stroke="#e1b61e" stroke-width="2.6" stroke-linejoin="round"/>
<path d="M1773.50 145.10h12.40M1779.70 138.50v13.20M1822.70 145.10h12.40M1828.90 138.50v13.20M1868.90 145.10h12.40M1875.10 138.50v13.20M1888.60 145.10h12.40M1894.80 138.50v13.20M1909.70 145.10h12.40M1915.90 138.50v13.20M1911.70 145.10h12.40M1917.90 138.50v13.20M1936.10 145.10h12.40M1942.30 138.50v13.20M1945.00 145.10h12.40M1951.20 138.50v13.20" stroke="#e1b61e" stroke-width="2.4" fill="none"/>
<path d="M1973.90 284.30h12.40M1980.10 277.70v13.20" stroke="#e1b61e" stroke-width="2.4" fill="none"/>
<path d="M1597.2 542.2H1646.9" stroke="#e1b61e" stroke-width="2.3" fill="none"/><path d="M1616.6 541.8H1635.8" stroke="#e1b61e" stroke-width="2.6" fill="none"/><path d="M1625.9 532.2V551.6" stroke="#e1b61e" stroke-width="3.3" fill="none"/>
<path d="M1599.4 575.0H1647.9" stroke="#126fb6" stroke-width="2.3" fill="none"/><path d="M1616.6 574.0H1635.8" stroke="#126fb6" stroke-width="2.6" fill="none"/><path d="M1625.9 564.5V583.9" stroke="#126fb6" stroke-width="3.3" fill="none"/>
<text x="1663.5" y="552.8" font-size="19.93">Wnt/β-Catenin pathway alteration (n =11)</text>
<text x="1663.5" y="585.5" font-size="19.93">No Wnt/β-Catenin pathway alteration (n =31)</text>
</svg>
</body></html>
